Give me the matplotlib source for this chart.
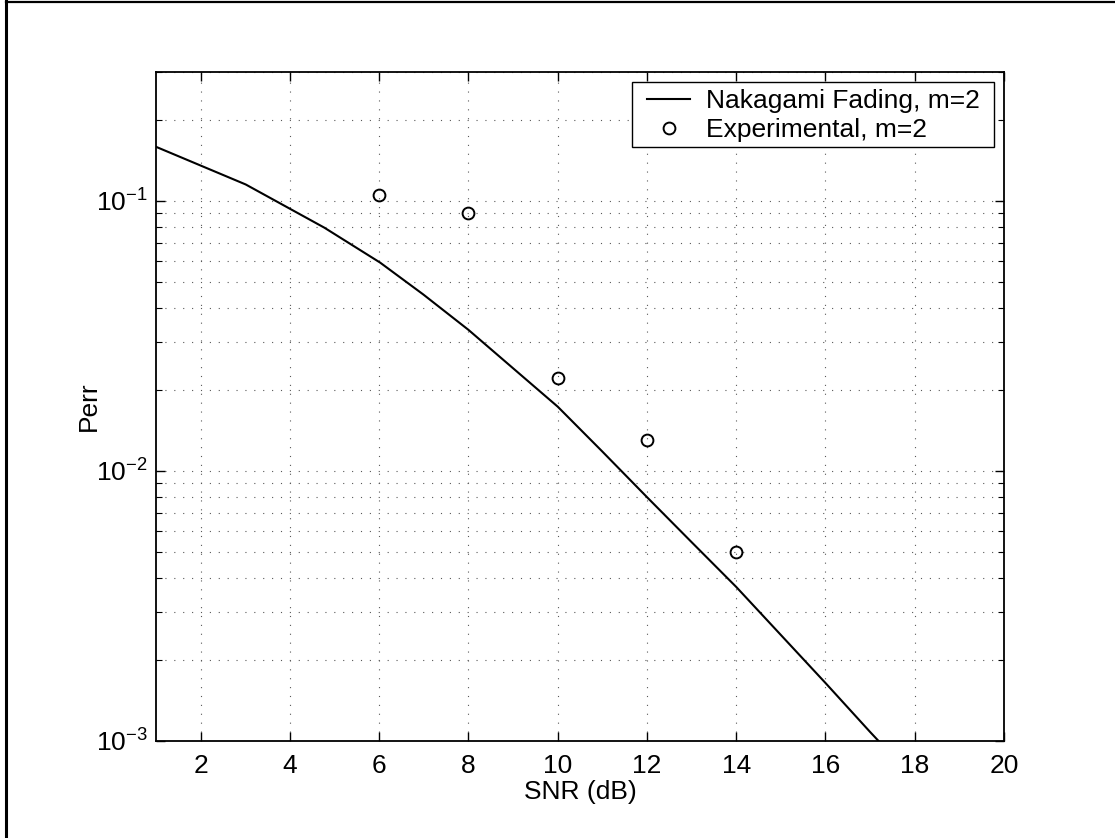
import matplotlib
matplotlib.use("Agg")
import matplotlib.pyplot as plt
from matplotlib.lines import Line2D
from matplotlib.patches import Rectangle
from matplotlib.ticker import LogLocator, LogFormatterSciNotation, NullFormatter, FixedLocator

# ---- data ----
snr_theory = [0.0, 3.01, 4.77, 6.02, 6.99, 8.0, 9.0, 10.0, 11.0, 12.0, 13.0, 14.0, 15.0, 16.0, 17.0, 18.0]
perr_theory = [0.186, 0.115, 0.0796, 0.0591, 0.0450, 0.0333, 0.0240, 0.0173, 0.0118, 0.0080,
               0.00545, 0.00372, 0.00247, 0.00164, 0.00108, 0.00072]
snr_exp = [6, 8, 10, 12, 14]
perr_exp = [0.105, 0.090, 0.022, 0.013, 0.0050]
x_ticks = [2, 4, 6, 8, 10, 12, 14, 16, 18, 20]
label_theory = "Nakagami Fading, m=2"
label_exp = "Experimental, m=2"

plt.rcParams['font.family'] = ['Liberation Sans', 'DejaVu Sans']
plt.rcParams['mathtext.fontset'] = 'custom'
plt.rcParams['mathtext.rm'] = 'Liberation Sans'
plt.rcParams['mathtext.it'] = 'Liberation Sans:italic'
plt.rcParams['mathtext.bf'] = 'Liberation Sans:bold'

FS = 19
W, H = 1115, 838
AX_L, AX_R, AX_T, AX_B = 156, 1004, 72, 741
fig = plt.figure(figsize=(W / 100, H / 100), dpi=100)
ax = fig.add_axes([AX_L / W, 1 - AX_B / H, (AX_R - AX_L) / W, (AX_B - AX_T) / H])

ax.plot(snr_theory, perr_theory, color='black', lw=1.5, label=label_theory, zorder=3)
ax.plot(snr_exp, perr_exp, linestyle='none', marker='o', markersize=8.5,
        markerfacecolor='none', markeredgecolor='black', markeredgewidth=1.4,
        label=label_exp, zorder=3)

ax.set_yscale('log')
ax.set_xlim(1, 20)
ax.set_ylim(1e-3, 0.3)
ax.xaxis.set_major_locator(FixedLocator(x_ticks))
ax.yaxis.set_major_locator(LogLocator(base=10, numticks=10))
ax.yaxis.set_minor_locator(LogLocator(base=10, subs=range(2, 10), numticks=20))
ax.yaxis.set_major_formatter(LogFormatterSciNotation())
ax.yaxis.set_minor_formatter(NullFormatter())

grid_kw = dict(color='0.35', lw=0.8, linestyle=(0, (1, 7)))
ax.grid(True, which='major', axis='both', **grid_kw)
ax.grid(True, which='minor', axis='y', **grid_kw)
ax.set_axisbelow(True)

ax.tick_params(which='major', direction='in', length=6.5, width=1.0, top=True, right=True,
               labelsize=FS, pad=9)
ax.tick_params(which='minor', direction='in', length=4, width=0.8, top=False, right=True)
ax.tick_params(axis='y', which='major', pad=6)
for s in ax.spines.values():
    s.set_linewidth(1.3)

ax.set_xlabel('SNR (dB)', fontsize=FS, labelpad=2)
ax.set_ylabel('Perr', fontsize=FS, labelpad=-4)

# legend: frame drawn separately to get the reference's asymmetric padding
def ax_x(px):
    return (px - AX_L) / (AX_R - AX_L)

def ax_y(py):
    return (AX_B - py) / (AX_B - AX_T)

leg = ax.legend(loc='upper left', bbox_to_anchor=(ax_x(647), ax_y(89)), fontsize=FS,
                frameon=False, borderaxespad=0, borderpad=0,
                handlelength=1.63, handletextpad=0.6, labelspacing=0.18)
leg.set_zorder(6)
ax.add_patch(Rectangle((ax_x(632), ax_y(147)), ax_x(994) - ax_x(632), ax_y(82) - ax_y(147),
                       transform=ax.transAxes, facecolor='white', edgecolor='black',
                       lw=1.0, zorder=5))

# figure frame (left and top edges)
fig.add_artist(Line2D([5.5 / W, 5.5 / W], [0, 1 - 1 / H], transform=fig.transFigure,
                      color='black', lw=2.2))
fig.add_artist(Line2D([5.5 / W, 1], [1 - 2 / H, 1 - 2 / H], transform=fig.transFigure,
                      color='black', lw=1.6))

fig.savefig('out.png', dpi=100, facecolor='white')
